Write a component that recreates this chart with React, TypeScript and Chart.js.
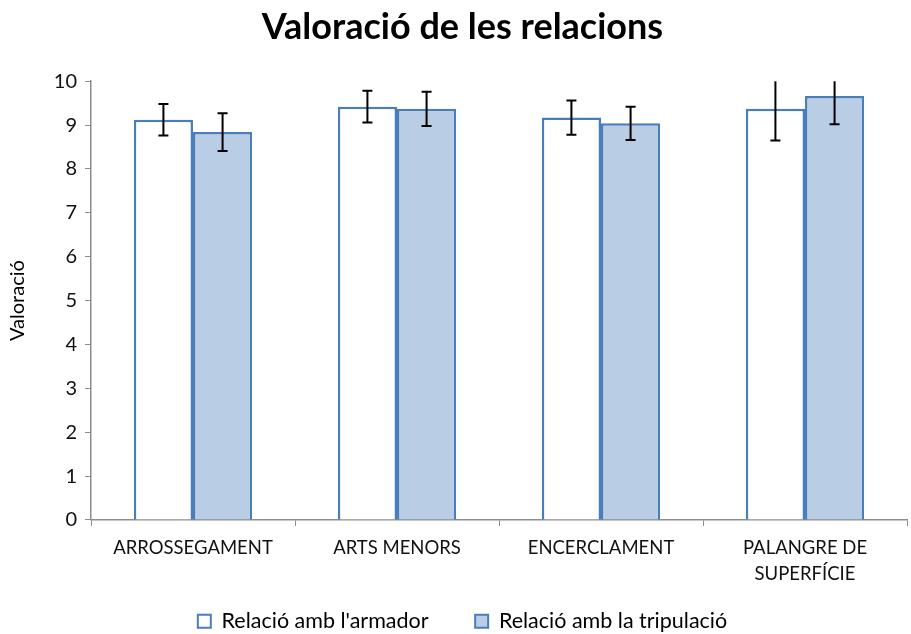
import React, { useEffect, useRef } from "react";
import { Chart, registerables } from "chart.js";

Chart.register(...registerables);

const categories: (string | string[])[] = ["ARROSSEGAMENT", "ARTS MENORS", "ENCERCLAMENT", ["PALANGRE DE", "SUPERFÍCIE"]];
const armador = [9.12, 9.42, 9.17, 9.37];
const armadorErr = [0.36, 0.36, 0.39, 0.72];
const tripulacio = [8.84, 9.37, 9.04, 9.66];
const tripulacioErr = [0.43, 0.39, 0.38, 0.64];
const yTicks = [0, 1, 2, 3, 4, 5, 6, 7, 8, 9, 10];
const legendLabels = ["Relació amb l'armador", "Relació amb la tripulació"];

const FONT = "Lato, 'Open Sans', sans-serif";
const BORDER = "#4a7ebb";
const FILL = "#b9cde5";
const AXIS = "#8c8c8c";
const PAD_LEFT = 18;

const errorBarPlugin = {
  id: "errorBars",
  afterDatasetsDraw(chart: any) {
    const { ctx, chartArea, scales } = chart;
    const errs = [armadorErr, tripulacioErr];
    ctx.save();
    ctx.strokeStyle = "#000";
    ctx.lineWidth = 2;
    chart.data.datasets.forEach((ds: any, di: number) => {
      const meta = chart.getDatasetMeta(di);
      meta.data.forEach((el: any, i: number) => {
        const v = ds.data[i];
        const e = errs[di][i];
        const x = el.x;
        let yTop = scales.y.getPixelForValue(v + e);
        let yBot = scales.y.getPixelForValue(v - e);
        const topClipped = yTop < chartArea.top;
        const botClipped = yBot > chartArea.bottom;
        yTop = Math.max(yTop, chartArea.top);
        yBot = Math.min(yBot, chartArea.bottom);
        ctx.beginPath();
        ctx.moveTo(x, yTop);
        ctx.lineTo(x, yBot);
        const cw = 5;
        if (!topClipped) {
          ctx.moveTo(x - cw, yTop);
          ctx.lineTo(x + cw, yTop);
        }
        if (!botClipped) {
          ctx.moveTo(x - cw, yBot);
          ctx.lineTo(x + cw, yBot);
        }
        ctx.stroke();
      });
    });
    ctx.restore();
  },
};

export default function App() {
  const ref = useRef<HTMLCanvasElement | null>(null);
  useEffect(() => {
    if (!ref.current) return;
    const chart = new Chart(ref.current, {
      type: "bar",
      data: {
        labels: categories as any,
        datasets: [
          {
            label: legendLabels[0],
            data: armador,
            backgroundColor: "#ffffff",
            borderColor: BORDER,
            borderWidth: 2.5,
            categoryPercentage: 0.58,
            barPercentage: 1,
          },
          {
            label: legendLabels[1],
            data: tripulacio,
            backgroundColor: FILL,
            borderColor: BORDER,
            borderWidth: 2.5,
            categoryPercentage: 0.58,
            barPercentage: 1,
          },
        ],
      },
      options: {
        animation: false,
        responsive: false,
        maintainAspectRatio: false,
        layout: { padding: { left: PAD_LEFT, right: 4, top: 0, bottom: -8 } },
        plugins: {
          title: {
            display: true,
            text: "Valoració de les relacions",
            color: "#000",
            font: { family: FONT, size: 36, weight: "bold" },
            padding: { top: 6, bottom: 32 },
          },
          legend: {
            position: "bottom",
            labels: {
              color: "#222",
              font: { family: FONT, size: 21.5 },
              boxWidth: 13,
              boxHeight: 13,
              padding: 14,
              generateLabels: () => [
                { text: legendLabels[0] + "\u00a0\u00a0\u00a0\u00a0\u00a0\u00a0", fillStyle: "#ffffff", strokeStyle: BORDER, lineWidth: 2, datasetIndex: 0 } as any,
                { text: legendLabels[1], fillStyle: FILL, strokeStyle: BORDER, lineWidth: 2, datasetIndex: 1 } as any,
              ],
            },
          },
          tooltip: { enabled: false },
        },
        scales: {
          x: {
            grid: { display: true, drawOnChartArea: false, color: AXIS, tickLength: 6, offset: true },
            border: { color: AXIS, width: 1.5 },
            ticks: { color: "#111", font: { family: FONT, size: 18.5, lineHeight: 1.42 }, maxRotation: 0, autoSkip: false, padding: 9 },
          },
          y: {
            min: 0,
            max: 10,
            afterBuildTicks: (scale: any) => {
              scale.ticks = yTicks.map((v) => ({ value: v }));
            },
            afterFit: (scale: any) => {
              scale.width = 91 - PAD_LEFT;
            },
            grid: { display: true, drawOnChartArea: false, color: AXIS, tickLength: 6 },
            border: { color: AXIS, width: 1.5 },
            ticks: { color: "#111", font: { family: FONT, size: 20 }, padding: 8 },
            title: {
              display: true,
              text: "Valoració",
              color: "#000",
              font: { family: FONT, size: 20 },
              padding: { top: 6 - PAD_LEFT, bottom: 0 },
            },
          },
        },
      },
      plugins: [errorBarPlugin],
    });
    return () => chart.destroy();
  }, []);
  return (
    <div style={{ position: "fixed", left: 0, top: 0, width: 911, height: 634, background: "#fff" }}>
      <canvas ref={ref} width={911} height={634} style={{ width: 911, height: 634 }} />
    </div>
  );
}
